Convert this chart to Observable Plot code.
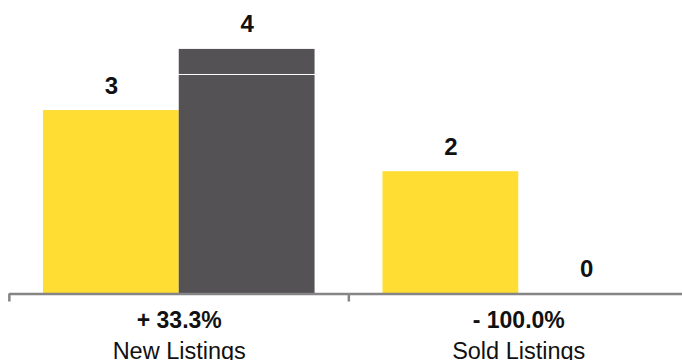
<!DOCTYPE html>
<html><head><meta charset="utf-8">
<script src="https://cdn.jsdelivr.net/npm/d3@7"></script>
<script src="https://cdn.jsdelivr.net/npm/@observablehq/plot@0.6"></script>
<style>html,body{margin:0;padding:0;background:#fff;overflow:hidden}</style>
</head><body><div id="chart"></div>
<script>
const groups = ["New Listings", "Sold Listings"];
const series = ["prior", "current"];
const priorValues = [3, 2];
const currentValues = [4, 0];
const changeLabels = ["+ 33.3%", "- 100.0%"];
const gridValues = [3.59];

const data = groups.flatMap((g, i) => [
  {group: g, series: series[0], value: priorValues[i]},
  {group: g, series: series[1], value: currentValues[i]}
]);
const labels = groups.map((g, i) => ({group: g, change: changeLabels[i]}));
const font = "'Liberation Sans', Arial, Helvetica, sans-serif";
const axisColor = "#858585";

const chart = Plot.plot({
  width: 682, height: 360,
  marginLeft: 9, marginRight: -6, marginTop: 0, marginBottom: 66.5,
  style: {fontFamily: font, background: "#fff", overflow: "visible"},
  fx: {domain: groups, padding: 0, round: false, axis: null},
  x: {domain: series, paddingInner: 0, paddingOuter: 0.25, round: false, axis: null},
  y: {domain: [0, 4.8], axis: null},
  color: {domain: series, range: ["#FFDD33", "#545254"]},
  marks: [
    Plot.barY(data, {fx: "group", x: "series", y: "value", fill: "series"}),
    Plot.ruleY(gridValues, {stroke: "white", strokeWidth: 1}),
    Plot.ruleY([0], {stroke: axisColor, strokeWidth: 2.5}),
    Plot.ruleX(labels, {fx: "group", x: () => series[0], y1: 0, y2: 0, insetBottom: -8, dx: -102, stroke: axisColor, strokeWidth: 2.5}),
    Plot.text(data, {fx: "group", x: "series", y: "value", text: "value", dy: -17, lineAnchor: "bottom", fontSize: 24, fontWeight: "bold", fill: "#111"}),
    Plot.text(labels, {fx: "group", frameAnchor: "bottom", text: "change", dy: 33.5, lineAnchor: "bottom", fontSize: 23, fontWeight: "bold", fill: "#111"}),
    Plot.text(labels, {fx: "group", frameAnchor: "bottom", text: "group", dy: 64.5, lineAnchor: "bottom", fontSize: 23.5, fill: "#111"})
  ]
});
document.getElementById("chart").appendChild(chart);
</script>
</body></html>
